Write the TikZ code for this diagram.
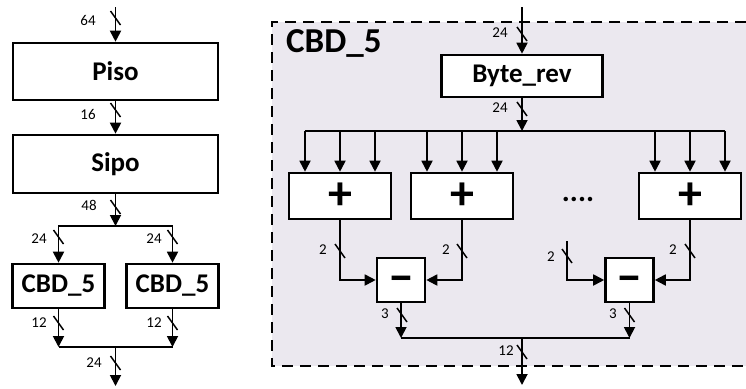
\documentclass[tikz,border=0pt]{standalone}
\usepackage{fontspec}
\setmainfont{Carlito}
\usetikzlibrary{arrows.meta,calc}

\definecolor{panel}{HTML}{EBE8EF}

\tikzset{
  block/.style={draw, line width=2.6pt, fill=white, inner sep=0pt,
    font=\fontsize{27}{30}\selectfont\bfseries},
  opblock/.style={block, font=\fontsize{48}{50}\selectfont\bfseries},
  wire/.style={line width=1.8pt},
  feed/.style={wire, -{Triangle[length=11pt,width=11pt]}},
  widthlabel/.style={inner sep=0pt, font=\fontsize{15}{18}\selectfont},
  buswidth/.pic={\draw[line width=1.5pt] (-5,-7) -- (5,7);},
}

\begin{document}
\begin{tikzpicture}[x=1pt,y=-1pt]
\useasboundingbox (0,0) rectangle (746,388);

% ---------------- CBD_5 internal structure panel ----------------
\fill[panel] (272,22) rectangle (746,366);
\draw[line width=1.8pt, dash pattern=on 11pt off 7pt] (746,22) -- (272,22) -- (272,366) -- (746,366);
\node[anchor=base west, inner sep=0pt, font=\fontsize{35}{40}\selectfont\bfseries] (title) at (286,52) {CBD\_5};

% ---------------- left column: top-level datapath ----------------
\node[block, minimum width=205pt, minimum height=57pt] (piso) at (115.5,71.5) {Piso};
\node[block, minimum width=205pt, minimum height=58pt] (sipo) at (115.5,164) {Sipo};
\node[block, minimum width=92pt, minimum height=44pt] (cbdl) at (58.5,286) {CBD\_5};
\node[block, minimum width=92pt, minimum height=44pt] (cbdr) at (172.5,286) {CBD\_5};

\coordinate (in1) at (115.5,7);
\coordinate (split) at (115.5,226);
\coordinate (merge) at (115.5,347);
\coordinate (out1) at (115.5,386);

\draw[feed] (in1) -- (piso.north);
\draw[feed] (piso.south) -- (sipo.north);
\draw[feed] (sipo.south) -- (split);
\draw[wire, {Triangle[length=11pt,width=11pt]}-{Triangle[length=11pt,width=11pt]}]
  (cbdl.north) |- (split) -| (cbdr.north);
\draw[feed] (cbdl.south) -- (cbdl.south |- merge);
\draw[feed] (cbdr.south) -- (cbdr.south |- merge);
\draw[wire] (cbdl.south |- merge) -- (cbdr.south |- merge);
\draw[feed] (merge) -- (out1);

\pic at (115.5,18) {buswidth};   \node[widthlabel] (w64) at (88,20) {64};
\pic at (115.5,110) {buswidth};  \node[widthlabel] (w16) at (88,114) {16};
\pic at (115.5,207) {buswidth};  \node[widthlabel] (w48) at (89,205) {48};
\pic at (58.5,237) {buswidth};   \node[widthlabel] (w24l) at (39,239) {24};
\pic at (172.5,237) {buswidth};  \node[widthlabel] (w24r) at (154,239) {24};
\pic at (58.5,323) {buswidth};   \node[widthlabel] (w12l) at (39,323) {12};
\pic at (172.5,323) {buswidth};  \node[widthlabel] (w12r) at (154,323) {12};
\pic at (115.5,363) {buswidth};  \node[widthlabel] (w24o) at (94,363) {24};

% ---------------- right panel: CBD_5 ----------------
\node[block, minimum width=161pt, minimum height=42pt] (brev) at (522,76) {Byte\_rev};
\node[opblock, minimum width=102pt, minimum height=46pt] (p1) at (340,196) {+};
\node[opblock, minimum width=102pt, minimum height=46pt] (p2) at (462,196) {+};
\node[opblock, minimum width=102pt, minimum height=46pt] (p3) at (690,196) {+};
\node[inner sep=0pt, anchor=base, font=\fontsize{30}{32}\selectfont\bfseries] (dots) at (578,201) {....};
\node[opblock, minimum width=48pt, minimum height=44pt] (m1) at (401,280) {\vphantom{+}−};
\node[opblock, minimum width=48pt, minimum height=44pt] (m2) at (629.5,280) {\vphantom{+}−};

\coordinate (in2) at (522,7);
\coordinate (bus) at (522,131);
\coordinate (free) at (567,241);
\coordinate (sum) at (522,338);
\coordinate (out2) at (522,385);

\draw[feed] (in2) -- (brev.north);
\draw[feed] (brev.south) -- (bus);

% fan-out of the byte bus to the adders
\foreach \b in {p1,p2,p3}{
  \foreach \dx [count=\i] in {-35,0,35}{
    \coordinate (\b t\i) at ($(\b.north)+(\dx,0)$);
    \draw[feed] (\b t\i |- bus) -- (\b t\i);
  }
}
\draw[wire] (p1t1 |- bus) -- (p3t3 |- bus);

% adders to subtractors
\draw[feed] (p1.south) |- (m1.west);
\draw[feed] (p2.south) |- (m1.east);
\draw[feed] (free) |- (m2.west);
\draw[feed] (p3.south) |- (m2.east);

% subtractors to output
\draw[feed] (m1.south) -- (m1.south |- sum);
\draw[feed] (m2.south) -- (m2.south |- sum);
\draw[wire] (m1.south |- sum) -- (m2.south |- sum);
\draw[feed] (sum) -- (out2);

\pic at (522,34) {buswidth};   \node[widthlabel] (w24a) at (500,33) {24};
\pic at (522,109) {buswidth};  \node[widthlabel] (w24b) at (500,108) {24};
\pic at (340,251) {buswidth};  \node[widthlabel] (w2a) at (323,250) {2};
\pic at (462,251) {buswidth};  \node[widthlabel] (w2b) at (446,250) {2};
\pic at (567,256) {buswidth};  \node[widthlabel] (w2c) at (551,257) {2};
\pic at (690,251) {buswidth};  \node[widthlabel] (w2d) at (673,250) {2};
\pic at (402,315) {buswidth};  \node[widthlabel] (w3a) at (385,314) {3};
\pic at (629.5,315) {buswidth};\node[widthlabel] (w3b) at (613,314) {3};
\pic at (522,352) {buswidth};  \node[widthlabel] (w12o) at (506,351) {12};
\end{tikzpicture}
\end{document}
